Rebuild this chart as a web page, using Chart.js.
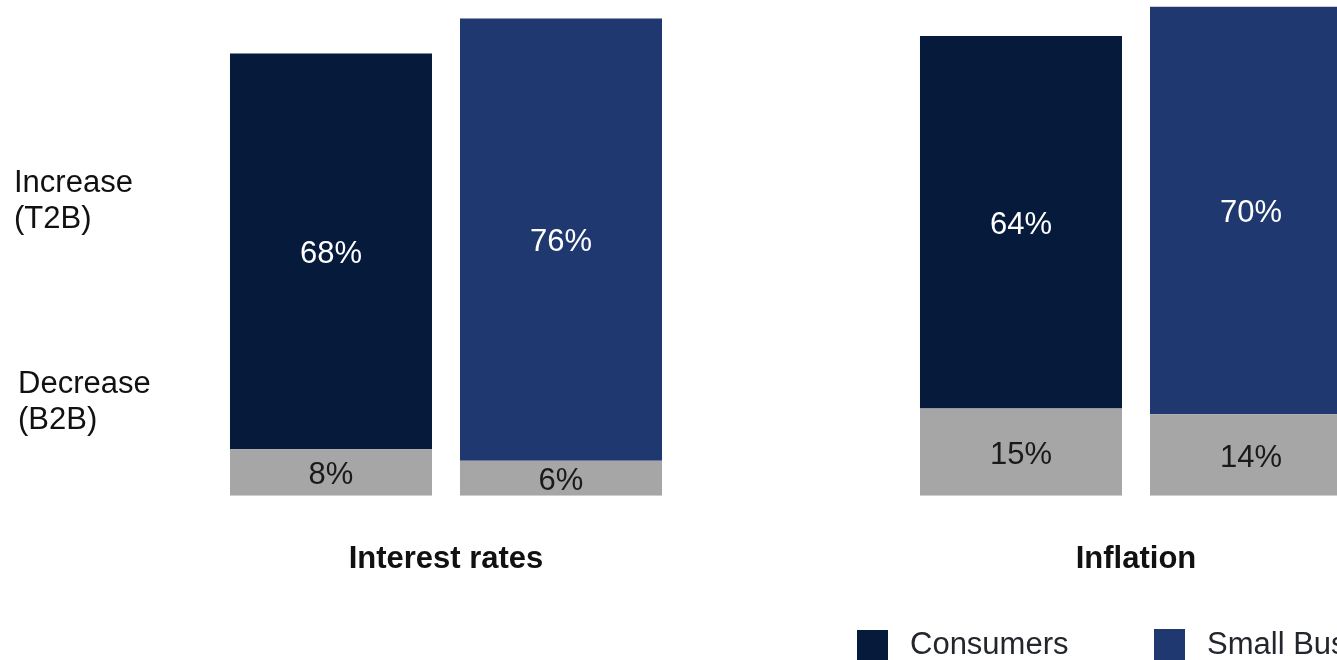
<!DOCTYPE html>
<html>
<head>
<meta charset="utf-8">
<script src="https://cdn.jsdelivr.net/npm/chart.js@4/dist/chart.umd.min.js"></script>
<style>
  html, body { margin: 0; padding: 0; background: #fff; overflow: hidden; }
  #wrap { width: 1500px; height: 672px; }
</style>
</head>
<body>
<div id="wrap"><canvas id="myChart"></canvas></div>
<script>
const categories = ['Interest rates', 'Inflation']
const groups = ['Consumers', 'Small Business']
const consumersIncrease = [68, 64]
const consumersDecrease = [8, 15]
const smallBizIncrease = [76, 70]
const smallBizDecrease = [6, 14]
const sideLabels = [['Increase', '(T2B)'], ['Decrease', '(B2B)']]

const navy = '#061a3b'
const blue = '#1f3870'
const grey = '#a6a6a6'
const fontFamily = '"Liberation Sans", Arial, sans-serif'

// values printed in the middle of every segment
const valueLabels = {
  id: 'valueLabels',
  afterDatasetsDraw(chart) {
    const ctx = chart.ctx
    ctx.save()
    ctx.font = '31px ' + fontFamily
    ctx.textAlign = 'center'
    ctx.textBaseline = 'middle'
    chart.data.datasets.forEach((ds, i) => {
      chart.getDatasetMeta(i).data.forEach((bar, j) => {
        const p = bar.getProps(['x', 'y', 'base'], true)
        ctx.fillStyle = ds.backgroundColor === grey ? '#1a1a1a' : '#ffffff'
        ctx.fillText(ds.data[j] + '%', p.x, (p.y + p.base) / 2 + 3)
      })
    })
    ctx.restore()
  },
}

// row captions on the left and the legend at the bottom
const extras = {
  id: 'extras',
  afterDraw(chart) {
    const ctx = chart.ctx
    ctx.save()
    ctx.font = '31px ' + fontFamily
    ctx.fillStyle = '#111111'
    ctx.textAlign = 'left'
    ctx.textBaseline = 'alphabetic'
    const rows = [{x: 14, y: 192}, {x: 18, y: 393}]
    sideLabels.forEach((lines, i) => {
      lines.forEach((line, k) => ctx.fillText(line, rows[i].x, rows[i].y + k * 36))
    })

    const items = [{x: 857, y: 630, color: navy}, {x: 1154, y: 629, color: blue}]
    ctx.textBaseline = 'middle'
    groups.forEach((name, i) => {
      ctx.fillStyle = items[i].color
      ctx.fillRect(items[i].x, items[i].y, 31, 31)
      ctx.fillStyle = '#23262d'
      ctx.fillText(name, items[i].x + 53, 645)
    })
    ctx.restore()
  },
}

new Chart('myChart', {
  type: 'bar',
  data: {
    labels: categories,
    datasets: [
      {label: 'Consumers decrease', data: consumersDecrease, backgroundColor: grey, stack: 'consumers'},
      {label: groups[0], data: consumersIncrease, backgroundColor: navy, stack: 'consumers'},
      {label: 'Small Business decrease', data: smallBizDecrease, backgroundColor: grey, stack: 'smallbiz'},
      {label: groups[1], data: smallBizIncrease, backgroundColor: blue, stack: 'smallbiz'},
    ],
  },
  options: {
    responsive: true,
    maintainAspectRatio: false,
    animation: false,
    devicePixelRatio: 1,
    layout: {padding: {left: 101, right: 19, top: 1, bottom: 49}},
    datasets: {
      bar: {categoryPercentage: 0.6667, barPercentage: 0.8783, borderWidth: 0},
    },
    scales: {
      x: {
        stacked: true,
        grid: {display: false, drawTicks: false},
        border: {display: false},
        ticks: {
          color: '#111111',
          padding: 45,
          font: {family: fontFamily, size: 31, weight: 'bold'},
        },
      },
      y: {
        stacked: true,
        display: false,
        min: 0,
        max: 85,
      },
    },
    plugins: {
      legend: {display: false},
      tooltip: {enabled: false},
    },
  },
  plugins: [valueLabels, extras],
})
</script>
</body>
</html>
